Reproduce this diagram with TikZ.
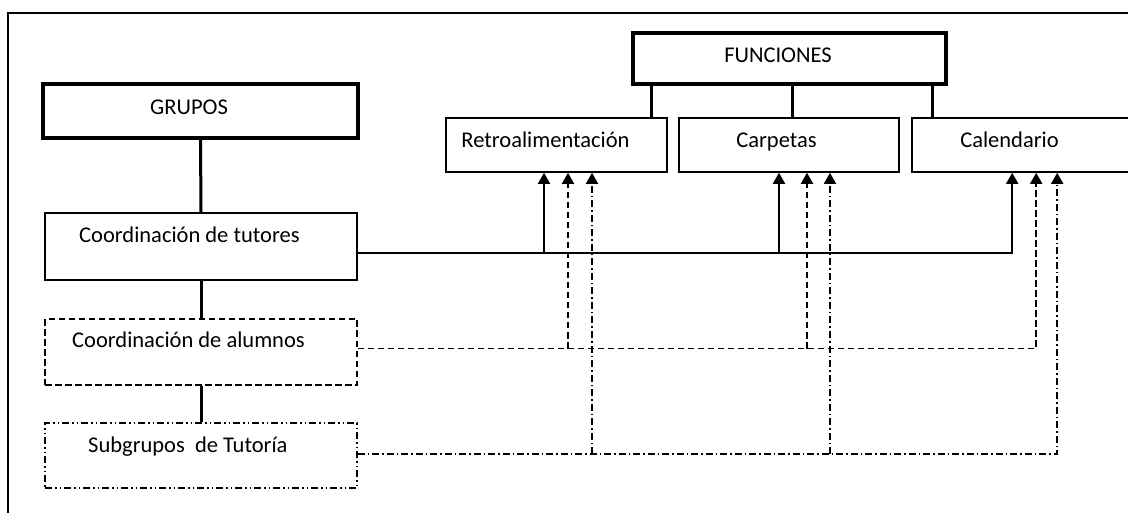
\documentclass[tikz,border=0pt]{standalone}
\usepackage{fontspec}
\setmainfont{Carlito}
\usetikzlibrary{arrows.meta}
\begin{document}
\begin{tikzpicture}[x=1pt,y=-1pt,
  box/.style={draw, line width=1.6pt, inner sep=0pt},
  headbox/.style={draw, line width=4pt, inner sep=0pt},
  lbl/.style={inner sep=0pt, font=\fontsize{22.5}{26}\selectfont},
  stem/.style={line width=3pt},
  feed/.style={line width=1.9pt, -{Triangle[width=12pt,length=11pt]}},
  dashline/.style={dash pattern=on 6.5pt off 3.5pt},
  dotline/.style={dash pattern=on 7pt off 3pt on 1.5pt off 3pt},
  dotdotline/.style={dash pattern=on 7pt off 3pt on 1.5pt off 3pt on 1.5pt off 3pt}]
\useasboundingbox (0,0) rectangle (1128,513);
\clip (0,0) rectangle (1128,513);

% outer frame (top and left edges)
\draw[line width=2.6pt] (8,513) -- (8,13) -- (1128,13);

% left column
\node[headbox, minimum width=315pt, minimum height=54pt] (grupos) at (200.5,111) {};
\node[box, minimum width=312pt, minimum height=67pt] (tut) at (201,246.5) {};
\node[box, dashline, minimum width=312pt, minimum height=66pt] (alu) at (201,352) {};
\node[box, dotdotline, minimum width=312pt, minimum height=65pt] (sub) at (201,455.5) {};

\node[lbl, anchor=base west] (tgrupos) at (150,115) {GRUPOS};
\node[lbl, anchor=base west] (ttut) at (79,243) {Coordinación de tutores};
\node[lbl, anchor=base west] (talu) at (72,348) {Coordinación de alumnos};
\node[lbl, anchor=base west] (tsub) at (88,452) {Subgrupos~ de Tutoría};

\draw[stem] (grupos.south) -- (tut.north);
\draw[stem] (tut.south) -- (alu.north);
\draw[stem] (alu.south) -- (sub.north);

% functions
\node[headbox, minimum width=313pt, minimum height=51pt] (func) at (789.5,58.5) {};
\node[box, minimum width=221pt, minimum height=54pt] (retro) at (556.5,145) {};
\node[box, minimum width=220pt, minimum height=54pt] (carp) at (789,145) {};
\node[box, minimum width=230pt, minimum height=54pt] (cal) at (1027,145) {};

\node[lbl, anchor=base] (tfunc) at (778,63) {FUNCIONES};
\node[lbl, anchor=base] (tretro) at (545.5,148) {Retroalimentación};
\node[lbl, anchor=base] (tcarp) at (776.5,148) {Carpetas};
\node[lbl, anchor=base] (tcal) at (1009.5,148) {Calendario};

\draw[stem] ([xshift=-16pt]retro.north east) -- ([xshift=-16pt]retro.north east |- func.south);
\draw[stem] ([xshift=3pt]carp.north) -- ([xshift=3pt]carp.north |- func.south);
\draw[stem] ([xshift=21pt]cal.north west) -- ([xshift=21pt]cal.north west |- func.south);

% arrow entry points under each function
\coordinate (r1) at ([xshift=-12.5pt]retro.south);
\coordinate (r2) at ([xshift=11.5pt]retro.south);
\coordinate (r3) at ([xshift=35.5pt]retro.south);
\coordinate (p1) at ([xshift=-10pt]carp.south);
\coordinate (p2) at ([xshift=18pt]carp.south);
\coordinate (p3) at ([xshift=41pt]carp.south);
\coordinate (c1) at ([xshift=101pt]cal.south west);
\coordinate (c2) at ([xshift=125pt]cal.south west);
\coordinate (c3) at ([xshift=146pt]cal.south west);

% tutors: solid links
\coordinate (ta) at ([yshift=-6.5pt]tut.east);
\draw[feed] (ta) -| (c1);
\draw[feed] (ta -| r1) -- (r1);
\draw[feed] (ta -| p1) -- (p1);

% students: dashed links
\coordinate (aa) at ([yshift=3.5pt]alu.east);
\draw[feed, dashline] (aa) -| (c2);
\draw[feed, dashline] (aa -| r2) -- (r2);
\draw[feed, dashline] (aa -| p2) -- (p2);

% tutoring subgroups: dash-dot links
\coordinate (sa) at ([yshift=1.5pt]sub.east);
\draw[feed, dotline] (sa) -| (c3);
\draw[feed, dotline] (sa -| r3) -- (r3);
\draw[feed, dotline] (sa -| p3) -- (p3);
\end{tikzpicture}
\end{document}
